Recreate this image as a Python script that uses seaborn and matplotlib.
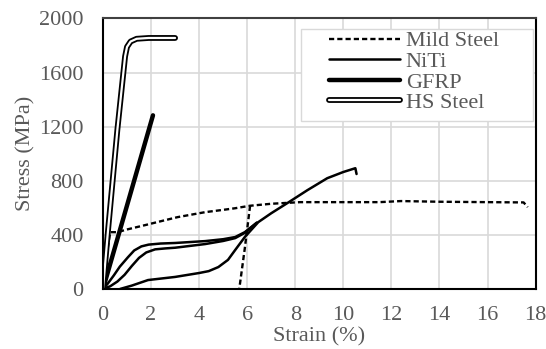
import matplotlib
matplotlib.use("Agg")
import matplotlib.pyplot as plt
import matplotlib.patheffects as pe
from matplotlib.patches import Rectangle
import seaborn as sns

# values (strain %, stress MPa)
mild_x = [0, 0.15, 0.3, 0.6, 1.0, 1.75, 2.5, 3.1, 4.0, 4.25, 5.0, 5.5, 6.1, 7.0, 8.2, 10.3, 11.5, 12.4, 14.0, 16.0, 17.5, 17.67]
mild_y = [0, 250, 420, 420, 440, 472, 505, 531, 560, 568, 585, 597, 615, 630, 642, 642, 642, 650, 645, 642, 640, 605]
mild_unload_x = [6.12, 5.9, 5.67]
mild_unload_y = [615, 300, 0]

niti_a_x = [0, 0.2, 0.45, 0.7, 1.04, 1.3, 1.6, 1.9, 2.4, 3.0, 4.25, 5.0, 5.5, 5.9, 6.4]
niti_a_y = [0, 40, 100, 165, 235, 285, 315, 328, 336, 340, 354, 368, 384, 420, 490]
niti_b_x = [0, 0.3, 0.6, 0.9, 1.2, 1.5, 1.8, 2.17, 2.6, 3.0, 4.25, 5.0, 5.5, 5.9, 6.4]
niti_b_y = [0, 20, 55, 105, 170, 230, 270, 293, 300, 305, 332, 355, 376, 415, 490]
niti_c_x = [0.71, 1.2, 1.875, 3.0, 4.0, 4.4, 4.8, 5.2, 5.5, 5.9, 6.46, 7.0, 7.67, 8.5, 9.33, 10.0, 10.5, 10.55]
niti_c_y = [0, 25, 66, 89, 118, 132, 162, 215, 288, 384, 494, 560, 635, 730, 819, 865, 893, 850]

gfrp_x = [0, 2.08]
gfrp_y = [0, 1284]

hs_x = [0, 0.2, 0.6, 0.92, 1.0, 1.15, 1.4, 1.9, 3.0]
hs_y = [0, 413, 1180, 1720, 1790, 1830, 1850, 1856, 1856]

sns.set_style("whitegrid")
plt.rcParams['font.family'] = ['Liberation Serif', 'DejaVu Serif']

fig, ax = plt.subplots(figsize=(5.46, 3.49), dpi=100)
fig.subplots_adjust(left=0.1886, right=0.981, bottom=0.172, top=0.947)

ink = 'black'
grey_txt = '#595959'
fs = 16

sns.lineplot(x=mild_x, y=mild_y, sort=False, estimator=None, ax=ax, color=ink,
             lw=1.7, linestyle=(0, (2.2, 1.3)), label='Mild Steel')
sns.lineplot(x=mild_unload_x, y=mild_unload_y, sort=False, estimator=None, ax=ax,
             color=ink, lw=1.7, linestyle=(0, (2.2, 1.3)))
sns.lineplot(x=niti_a_x, y=niti_a_y, sort=False, estimator=None, ax=ax, color=ink,
             lw=1.8, label='NiTi')
sns.lineplot(x=niti_b_x, y=niti_b_y, sort=False, estimator=None, ax=ax, color=ink, lw=1.8)
sns.lineplot(x=niti_c_x, y=niti_c_y, sort=False, estimator=None, ax=ax, color=ink, lw=1.8)
sns.lineplot(x=gfrp_x, y=gfrp_y, sort=False, estimator=None, ax=ax, color=ink,
             lw=3.2, label='GFRP')
sns.lineplot(x=hs_x, y=hs_y, sort=False, estimator=None, ax=ax, color='white',
             lw=1.6, solid_capstyle='round', label='HS Steel',
             path_effects=[pe.Stroke(linewidth=4.2, foreground=ink, capstyle='round'), pe.Normal()])

ax.set_xlim(0, 18)
ax.set_ylim(0, 2000)
ax.set_xticks(range(0, 19, 2))
ax.set_yticks(range(0, 2001, 400))
ax.grid(True, color='#d9d9d9', lw=1.2)
ax.tick_params(axis='x', length=0, labelsize=fs, colors=grey_txt, pad=12.5)
ax.tick_params(axis='y', length=0, labelsize=fs, colors=grey_txt, pad=14)
ax.set_xlabel('Strain (%)', fontsize=fs, color=grey_txt)
ax.xaxis.set_label_coords(0.5, -0.141)
ax.set_ylabel('Stress (MPa)', fontsize=fs, color=grey_txt)
ax.yaxis.set_label_coords(-0.157, 0.5)

for side in ['left', 'bottom', 'right']:
    ax.spines[side].set_color('black')
    ax.spines[side].set_linewidth(1.5)
ax.spines['top'].set_color('#404040')
ax.spines['top'].set_linewidth(1.5)

# legend box drawn separately (wide side padding like the original)
ax.add_patch(Rectangle((0.458, 0.621), 0.536, 0.340, transform=ax.transAxes,
                       facecolor='white', edgecolor='#d9d9d9', lw=1.0, zorder=4))
leg = ax.legend(loc='upper left', bbox_to_anchor=(0.5225, 0.954), fontsize=fs,
                handlelength=3.2, handletextpad=0.25, labelspacing=0.0,
                borderpad=0, borderaxespad=0, frameon=False)
leg.set_zorder(5)
for t in leg.get_texts():
    t.set_color(grey_txt)

fig.savefig('out.png', dpi=100)
